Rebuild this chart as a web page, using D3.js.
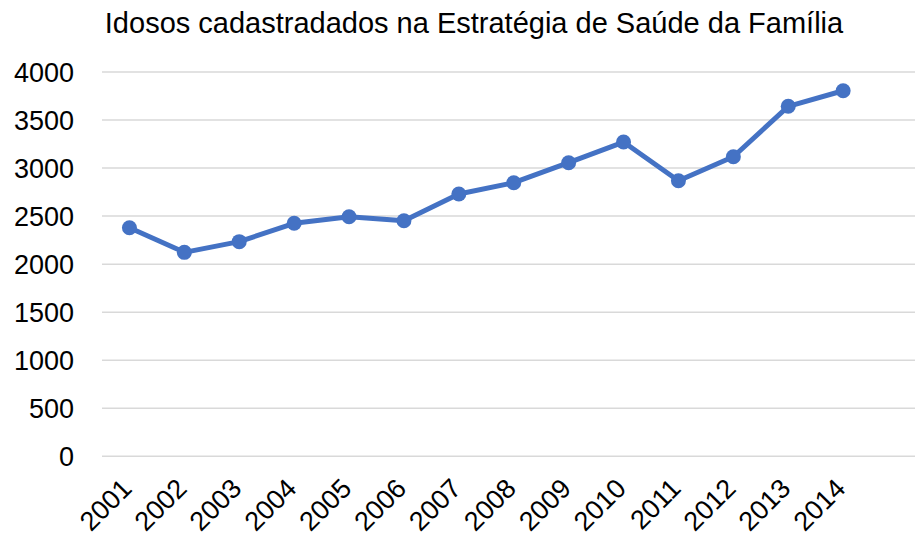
<!DOCTYPE html>
<html>
<head>
<meta charset="utf-8">
<script src="https://cdn.jsdelivr.net/npm/d3@7"></script>
<style>
  body { margin: 0; background: #fff; }
  svg { display: block; font-family: "Liberation Sans", Arial, sans-serif; }
</style>
</head>
<body>
<div id="chart"></div>
<script>
const years = ['2001', '2002', '2003', '2004', '2005', '2006', '2007',
  '2008', '2009', '2010', '2011', '2012', '2013', '2014'];
const idosos = [2379, 2123, 2234, 2425, 2494, 2452, 2730,
  2848, 3056, 3271, 2868, 3118, 3643, 3805];
const yTicks = [0, 500, 1000, 1500, 2000, 2500, 3000, 3500, 4000];
const chartTitle = 'Idosos cadastradados na Estratégia de Saúde da Família';

const W = 915, H = 539;
const margin = { top: 72, right: 45, bottom: 83, left: 102 };

const svg = d3.select('#chart').append('svg')
  .attr('width', W)
  .attr('height', H);

const x = d3.scaleBand()
  .domain(years)
  .range([margin.left, margin.left + 14 * 54.9]);

const y = d3.scaleLinear()
  .domain([0, 4000])
  .range([margin.top + 384.3, margin.top]);

// gridlines
svg.append('g')
  .selectAll('line')
  .data(yTicks)
  .enter()
  .append('line')
  .attr('x1', margin.left)
  .attr('x2', W)
  .attr('y1', d => y(d))
  .attr('y2', d => y(d))
  .attr('stroke', '#d9d9d9')
  .attr('stroke-width', 1.5);

// y labels
svg.append('g')
  .selectAll('text')
  .data(yTicks)
  .enter()
  .append('text')
  .attr('x', 74)
  .attr('y', d => y(d))
  .attr('dy', '0.36em')
  .attr('text-anchor', 'end')
  .attr('font-size', '27px')
  .attr('fill', '#000')
  .text(d => d);

const cx = d => x(d) + x.bandwidth() / 2;

// x labels, rotated
svg.append('g')
  .selectAll('text')
  .data(years)
  .enter()
  .append('text')
  .attr('transform', d => `translate(${cx(d) + 4},490) rotate(-45)`)
  .attr('text-anchor', 'end')
  .attr('font-size', '27px')
  .attr('fill', '#000')
  .text(d => d);

const line = d3.line()
  .x((d, i) => cx(years[i]))
  .y(d => y(d));

svg.append('path')
  .datum(idosos)
  .attr('d', line)
  .attr('fill', 'none')
  .attr('stroke', '#4472c4')
  .attr('stroke-width', 5)
  .attr('stroke-linejoin', 'round');

svg.append('g')
  .selectAll('circle')
  .data(idosos)
  .enter()
  .append('circle')
  .attr('cx', (d, i) => cx(years[i]))
  .attr('cy', d => y(d))
  .attr('r', 7.5)
  .attr('fill', '#4472c4');

// title
svg.append('text')
  .attr('x', 474)
  .attr('y', 33)
  .attr('text-anchor', 'middle')
  .attr('font-size', '29px')
  .attr('fill', '#000')
  .text(chartTitle);
</script>
</body>
</html>
